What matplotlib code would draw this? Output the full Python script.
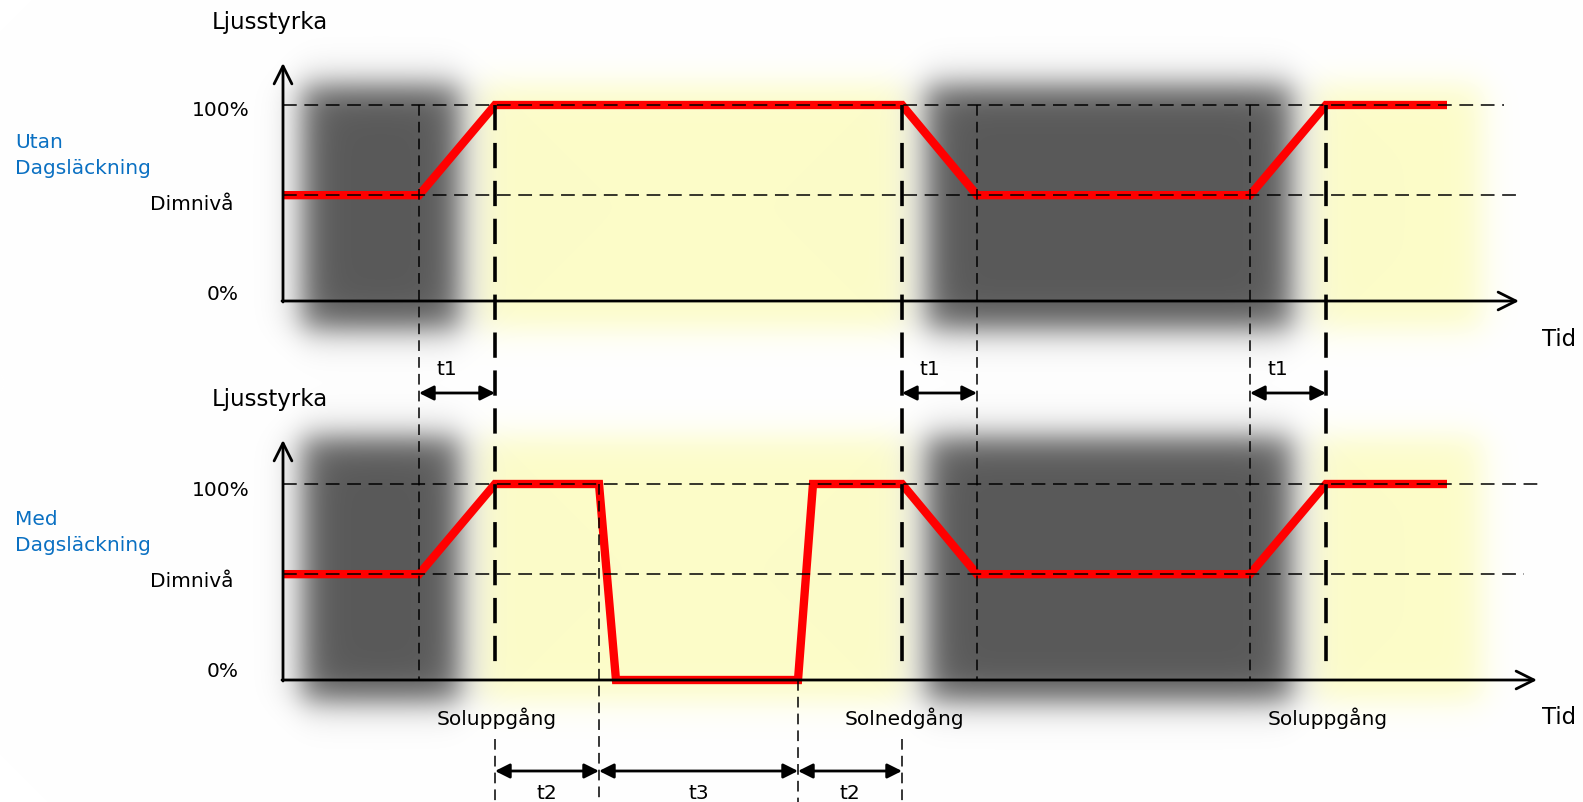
import numpy as np
import matplotlib
matplotlib.use("Agg")
import matplotlib.pyplot as plt

W, H = 1583, 803

# event times along the time axis (schematic units)
top_times = [283, 419, 495, 902, 977, 1250, 1326, 1447]
top_levels = [54, 54, 100, 100, 54, 54, 100, 100]
bot_times = [283, 419, 495, 599, 616, 798, 813, 902, 977, 1250, 1326, 1447]
bot_levels = [54, 54, 100, 100, 0, 0, 100, 100, 54, 54, 100, 100]

level_names = ["100%", "Dimnivå", "0%"]
level_values = [100, 54, 0]
panel_titles = ["Utan\nDagsläckning", "Med\nDagsläckning"]
sun_labels = ["Soluppgång", "Solnedgång", "Soluppgång"]
sun_times = [495, 902, 1326]
t1_spans = [(419, 495), (902, 977), (1250, 1326)]
t23_spans = [(495, 599, "t2"), (599, 798, "t3"), (798, 902, "t2")]

# pixel position of 0% and 100% for each panel
panels = [dict(y0=302, y100=106), dict(y0=681, y100=485)]


def ly(p, v):
    return p["y0"] + (p["y100"] - p["y0"]) * v / 100.0


fig = plt.figure(figsize=(W / 100, H / 100), dpi=100)
ax = fig.add_axes([0, 0, 1, 1])
ax.set_xlim(0, W)
ax.set_ylim(H, 0)
ax.axis("off")

# blurred night / day background
yy, xx = np.mgrid[0:H, 0:W] + 0.5


def soft_box(x0, x1, y0, y1, w=19):
    fx = 0.5 * (np.tanh((xx - x0) / w) - np.tanh((xx - x1) / w))
    fy = 0.5 * (np.tanh((yy - y0) / w) - np.tanh((yy - y1) / w))
    return fx * fy


img = np.ones((H, W, 3))
yellow = np.array([252, 252, 200]) / 255
dark = np.array([89, 89, 89]) / 255
ya = np.zeros((H, W))
da = np.zeros((H, W))
for (y0, y1) in [(86, 330), (438, 702)]:
    ya += soft_box(480, 905, y0, y1) + soft_box(1315, 1482, y0, y1)
    da += soft_box(302, 460, y0, y1) + soft_box(926, 1292, y0, y1)
ya = np.clip(ya, 0, 1)[..., None]
da = np.clip(da, 0, 1)[..., None]
img = img * (1 - ya) + yellow * ya
img = img * (1 - da) + dark * da
ax.imshow(img, extent=(0, W, H, 0), zorder=0, interpolation="bilinear")

fs = 14.5
ax_x = 283
hl_end = [(1504, 1519), (1540, 1524)]   # end of 100% / dim dashed lines
x_tip = [1519, 1537]
y_tip = [64, 441]
title_y = [[142, 169], [520, 546]]
label_y = [[111, 204, 295], [491, 582, 672]]
label_x = [250, 234, 239]
tid_y = [340, 718]

for i, p in enumerate(panels):
    # axes with arrow heads
    ax.annotate("", xy=(x_tip[i], p["y0"]), xytext=(ax_x - 1, p["y0"]),
                arrowprops=dict(arrowstyle="->", lw=2, color="black",
                                mutation_scale=32, shrinkA=0, shrinkB=0), zorder=5)
    ax.annotate("", xy=(ax_x, y_tip[i]), xytext=(ax_x, p["y0"] + 1),
                arrowprops=dict(arrowstyle="->", lw=2, color="black",
                                mutation_scale=32, shrinkA=0, shrinkB=0), zorder=5)
    # level lines
    ax.plot([ax_x, hl_end[i][0]], [ly(p, 100)] * 2, color="black", lw=1.1,
            dashes=(9, 5), zorder=4)
    ax.plot([ax_x, hl_end[i][1]], [ly(p, 54)] * 2, color="black", lw=1.1,
            dashes=(9, 5), zorder=4)
    for name, v, xx_, yy_ in zip(level_names, level_values, label_x, label_y[i]):
        ax.text(xx_, yy_, name, ha="right", va="center", fontsize=fs)
    ax.text(270, 22 + i * 378, "Ljusstyrka", ha="center", va="center", fontsize=16.5)
    for k, line in enumerate(panel_titles[i].split("\n")):
        ax.text(15, title_y[i][k], line, ha="left", va="center", fontsize=14.5,
                color="#0a70c2")
    ax.text(1542, tid_y[i], "Tid", ha="left", va="center", fontsize=16.5)

# light level curves
ax.plot(top_times, [ly(panels[0], v) for v in top_levels], color="#ff0000",
        lw=6, solid_joinstyle="miter", solid_capstyle="butt", zorder=3)
ax.plot(bot_times, [ly(panels[1], v) for v in bot_levels], color="#ff0000",
        lw=6, solid_joinstyle="miter", solid_capstyle="butt", zorder=3)

# thin dashed verticals
thin = dict(color="black", lw=1.1, dashes=(7, 4), zorder=4)
for t in [419, 977, 1250]:
    ax.plot([t, t], [ly(panels[0], 100), panels[1]["y0"]], **thin)
ax.plot([599, 599], [ly(panels[1], 100), H], **thin)
ax.plot([798, 798], [panels[1]["y0"], H], **thin)
for t in [495, 902]:
    ax.plot([t, t], [740, H], **thin)

# thick dashed verticals at sunrise / sunset
for t in sun_times:
    ax.plot([t, t], [ly(panels[0], 100), panels[1]["y0"] - 8], color="black",
            lw=2.6, dashes=(7, 3.5), zorder=4)

for lab, t in zip(sun_labels, sun_times):
    ax.text(t + 2, 718, lab, ha="center", va="center", fontsize=fs)

# dimension arrows
dim = dict(arrowstyle="<|-|>", lw=2, color="black", mutation_scale=22,
           shrinkA=0, shrinkB=0)
for a, b in t1_spans:
    ax.annotate("", xy=(a, 394), xytext=(b, 394), arrowprops=dim, zorder=5)
    ax.text((a + b) / 2 - 10, 370, "t1", ha="center", va="center", fontsize=fs)
for a, b, lab in t23_spans:
    ax.annotate("", xy=(a, 772), xytext=(b, 772), arrowprops=dim, zorder=5)
    ax.text((a + b) / 2, 794, lab, ha="center", va="center", fontsize=fs)

fig.savefig("out.png", dpi=100)
